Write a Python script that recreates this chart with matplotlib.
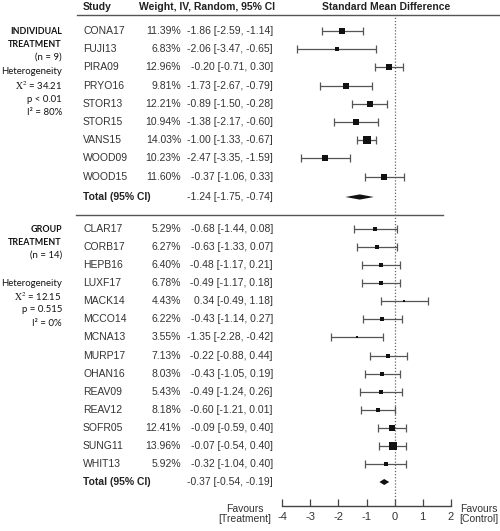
import matplotlib
matplotlib.use("Agg")
import matplotlib.pyplot as plt

plt.rcParams['axes.unicode_minus'] = False
plt.rcParams['mathtext.fontset'] = 'stix'

# ---------------- data ----------------
ind_studies = ['CONA17', 'FUJI13', 'PIRA09', 'PRYO16', 'STOR13', 'STOR15', 'VANS15', 'WOOD09', 'WOOD15']
ind_weights = [11.39, 6.83, 12.96, 9.81, 12.21, 10.94, 14.03, 10.23, 11.60]
ind_smd = [-1.86, -2.06, -0.20, -1.73, -0.89, -1.38, -1.00, -2.47, -0.37]
ind_lo = [-2.59, -3.47, -0.71, -2.67, -1.50, -2.17, -1.33, -3.35, -1.06]
ind_hi = [-1.14, -0.65, 0.30, -0.79, -0.28, -0.60, -0.67, -1.59, 0.33]
ind_total = [-1.24, -1.75, -0.74]

grp_studies = ['CLAR17', 'CORB17', 'HEPB16', 'LUXF17', 'MACK14', 'MCCO14', 'MCNA13', 'MURP17',
               'OHAN16', 'REAV09', 'REAV12', 'SOFR05', 'SUNG11', 'WHIT13']
grp_weights = [5.29, 6.27, 6.40, 6.78, 4.43, 6.22, 3.55, 7.13, 8.03, 5.43, 8.18, 12.41, 13.96, 5.92]
grp_smd = [-0.68, -0.63, -0.48, -0.49, 0.34, -0.43, -1.35, -0.22, -0.43, -0.49, -0.60, -0.09, -0.07, -0.32]
grp_lo = [-1.44, -1.33, -1.17, -1.17, -0.49, -1.14, -2.28, -0.88, -1.05, -1.24, -1.21, -0.59, -0.54, -1.04]
grp_hi = [0.08, 0.07, 0.21, 0.18, 1.18, 0.27, -0.42, 0.44, 0.19, 0.26, 0.01, 0.40, 0.40, 0.40]
grp_total = [-0.37, -0.54, -0.19]

ind_label = ['INDIVIDUAL', 'TREATMENT', '(n = 9)']
ind_het = ['Heterogeneity', r'$\mathrm{X}^2$ = 34.21', 'p < 0.01', 'I² = 80%']
grp_label = ['GROUP', 'TREATMENT', '(n = 14)']
grp_het = ['Heterogeneity', r'$\mathrm{X}^2$ = 12.15', 'p = 0.515', 'I² = 0%']

xticks = [-4, -3, -2, -1, 0, 1, 2]

# ---------------- layout ----------------
W, H = 500, 531
fig = plt.figure(figsize=(W / 100, H / 100), dpi=100)
fig.patch.set_facecolor('white')

# text layer in pixel coordinates
tx = fig.add_axes([0, 0, 1, 1])
tx.set_xlim(0, W)
tx.set_ylim(H, 0)
tx.axis('off')

y_top, y_axis = 15, 506
fx = fig.add_axes([282.3 / W, (H - y_axis) / H, 168.4 / W, (y_axis - y_top) / H])
fx.set_xlim(-4, 2)
fx.set_ylim(y_axis, y_top)
fx.patch.set_alpha(0)
for s in ['top', 'left', 'right']:
    fx.spines[s].set_visible(False)
fx.spines['bottom'].set_color('#444444')
fx.spines['bottom'].set_linewidth(1.0)
fx.set_yticks([])
fx.set_xticks(xticks)
fx.set_xticklabels([str(t) for t in xticks], fontsize=8, family='Liberation Sans', color='#333333')
fx.tick_params(axis='x', direction='in', length=5.2, width=0.9, color='#444444', pad=4)

ind_y = [31 + 18.2 * i for i in range(len(ind_studies))]
ind_ty = 197
grp_y = [229 + 18.08 * i for i in range(len(grp_studies))]
grp_ty = 482

TF = 'Liberation Sans'
TC = '#333333'
FS = 7.5
LF = 'Lato'

# header
tx.text(83, 7, 'Study', fontsize=FS, family=TF, fontweight='bold', color='#222222', va='center')
tx.text(139, 7, 'Weight, IV, Random, 95% CI', fontsize=FS, family=TF, fontweight='bold', color='#222222', va='center')
tx.text(386, 7, 'Standard Mean Difference', fontsize=FS, family=TF, fontweight='bold', color='#222222',
        va='center', ha='center')
tx.plot([77, 500], [15, 15], color='#555555', lw=1.0)
tx.plot([76, 443], [215, 215], color='#555555', lw=1.0)

# zero line
fx.axvline(0, color='#666666', lw=0.9, linestyle=(0, (1, 1.5)))


def draw_group(studies, weights, smd, lo, hi, total, ys, ty, dh):
    for s, w, m, l, h, y in zip(studies, weights, smd, lo, hi, ys):
        tx.text(83, y, s, fontsize=FS, family=TF, color=TC, va='center')
        tx.text(181, y, f'{w:.2f}%', fontsize=FS, family=TF, color=TC, va='center', ha='right')
        tx.text(273, y, f'{m:.2f} [{l:.2f}, {h:.2f}]', fontsize=FS, family=TF, color=TC,
                va='center', ha='right')
        fx.errorbar([m], [y], xerr=[[m - l], [h - m]], fmt='none', ecolor='#555555',
                    elinewidth=0.9, capsize=2.6, capthick=0.9, clip_on=False)
        fx.plot([m], [y], marker='s', color='#111111', markersize=(1.0 + 0.43 * w) * 0.72,
                markeredgewidth=0, clip_on=False, zorder=5)
    tx.text(83, ty, 'Total (95% CI)', fontsize=FS, family=TF, fontweight='bold', color='#222222', va='center')
    m, l, h = total
    tx.text(273, ty, f'{m:.2f} [{l:.2f}, {h:.2f}]', fontsize=FS, family=TF, color=TC, va='center', ha='right')
    fx.fill([l, m, h, m], [ty, ty - dh, ty, ty + dh], color='#111111', lw=0, clip_on=False, zorder=5)


draw_group(ind_studies, ind_weights, ind_smd, ind_lo, ind_hi, ind_total, ind_y, ind_ty, 2.6)
draw_group(grp_studies, grp_weights, grp_smd, grp_lo, grp_hi, grp_total, grp_y, grp_ty, 3.0)

# left labels
def left_block(labels, het, y0, yh):
    for i, t in enumerate(labels):
        tx.text(62, y0 + 13.2 * i, t, fontsize=6.4 if i < 2 else 6.9, family=LF, color='#111111',
                ha='right', va='center', fontweight='bold' if i < 2 else 'normal')
    for i, t in enumerate(het):
        tx.text(62, yh + 13.5 * i, t, fontsize=6.9, family=LF, color='#111111', ha='right', va='center')


left_block(ind_label, ind_het, 31, 72)
left_block(grp_label, grp_het, 229, 283)

# favours labels
tx.text(245, 514, 'Favours\n[Treatment]', fontsize=7.5, family=TF, color=TC, ha='center', va='center',
        linespacing=1.05)
tx.text(479, 514, 'Favours\n[Control]', fontsize=7.5, family=TF, color=TC, ha='center', va='center',
        linespacing=1.05)

fig.savefig('out.png', dpi=100, facecolor='white')
